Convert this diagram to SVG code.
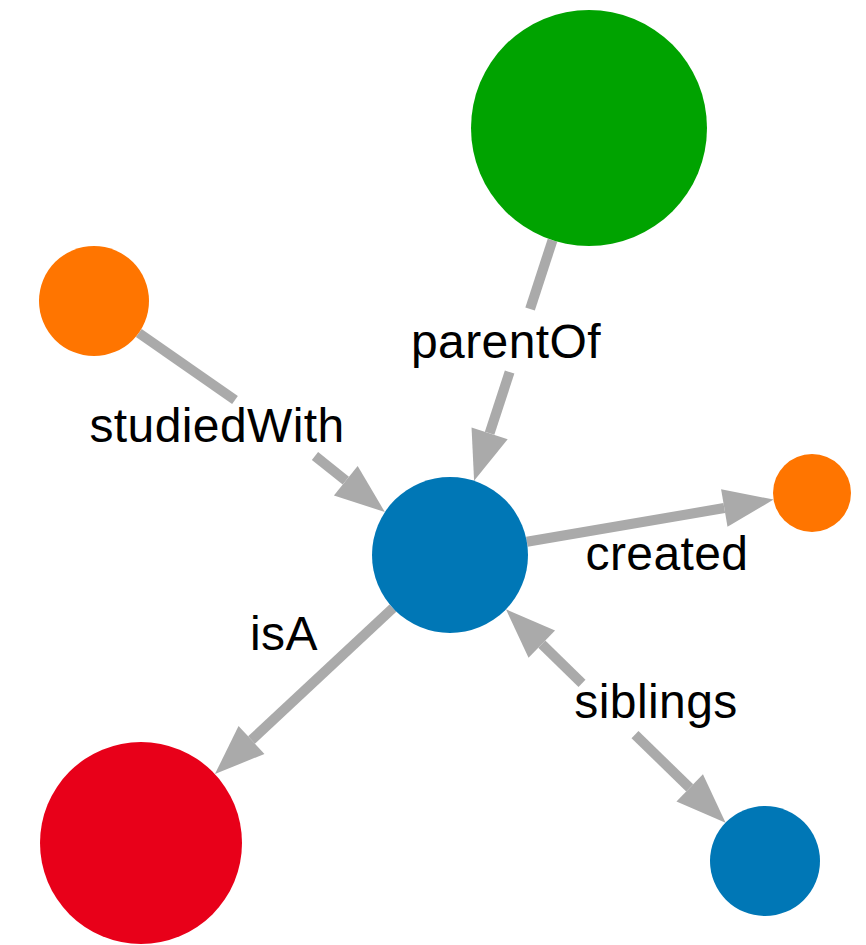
<svg xmlns="http://www.w3.org/2000/svg" width="866" height="945" viewBox="0 0 866 945">
  <style>
    .edge { fill: none; stroke: #aaaaaa; stroke-width: 10; }
    .label { font-family: "Liberation Sans", Arial, sans-serif; font-size: 48px; letter-spacing: 0.4px; fill: #000000; text-anchor: middle; }
    .blue { fill: #0077b6; }
    .green { fill: #00a300; }
    .orange { fill: #ff7500; }
    .red { fill: #e80019; }
  </style>
  <defs>
    <marker id="arrow" markerUnits="userSpaceOnUse" markerWidth="52" markerHeight="40" refX="0" refY="19" orient="auto" overflow="visible">
      <path d="M0,0 L50,19 L0,38 Z" fill="#aaaaaa"/>
    </marker>
  </defs>

  <rect width="866" height="945" fill="#ffffff"/>

  <g id="edges">
    <!-- parentOf: green -> center -->
    <g id="edge-parentOf">
      <path class="edge" d="M552.5,240.2 L530.1,309"/>
      <path class="edge" d="M509.6,372 L489.6,433.3" marker-end="url(#arrow)"/>
      <text class="label" x="506" y="358">parentOf</text>
    </g>
    <!-- studiedWith: orange -> center -->
    <g id="edge-studiedWith">
      <path class="edge" d="M138.8,333 L235,400"/>
      <path class="edge" d="M315,456 L345.8,480.7" marker-end="url(#arrow)"/>
      <text class="label" x="217" y="442">studiedWith</text>
    </g>
    <!-- created: center -> small orange -->
    <g id="edge-created">
      <path class="edge" d="M526.9,541.8 L724.3,508" marker-end="url(#arrow)"/>
      <text class="label" x="667" y="570">created</text>
    </g>
    <!-- isA: center -> red -->
    <g id="edge-isA">
      <path class="edge" d="M392.9,608.2 L251.5,740" marker-end="url(#arrow)"/>
      <text class="label" x="284" y="650">isA</text>
    </g>
    <!-- siblings: center <-> small blue -->
    <g id="edge-siblings">
      <path class="edge" d="M582,683.3 L541.8,644.2" marker-end="url(#arrow)"/>
      <path class="edge" d="M635,734.7 L689.7,787.8" marker-end="url(#arrow)"/>
      <text class="label" x="656" y="718">siblings</text>
    </g>
  </g>

  <g id="node-center"><circle class="blue" cx="450" cy="555" r="78"/></g>
  <g id="node-green"><circle class="green" cx="589" cy="128" r="118"/></g>
  <g id="node-orange-left"><circle class="orange" cx="94" cy="301" r="55"/></g>
  <g id="node-orange-right"><circle class="orange" cx="812" cy="493" r="39"/></g>
  <g id="node-red"><circle class="red" cx="141" cy="843" r="101"/></g>
  <g id="node-blue-small"><circle class="blue" cx="765" cy="861" r="55"/></g>
</svg>
